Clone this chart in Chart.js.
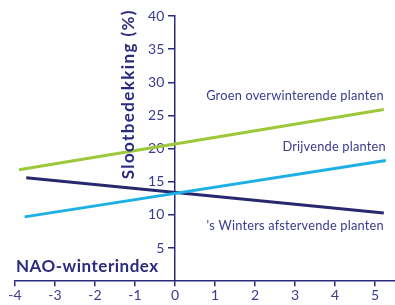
<!DOCTYPE html>
<html>
<head>
<meta charset="utf-8">
<script src="https://cdn.jsdelivr.net/npm/chart.js@4"></script>
<style>
  html, body { margin: 0; padding: 0; background: #fff; }
  #wrap { width: 395px; height: 305px; }
</style>
</head>
<body>
<div id="wrap"><canvas id="myChart"></canvas></div>
<script>
// NAO-winterindex (x) tegen slootbedekking in % (y)
const groenX = [-3.9, 5.22];
const groenY = [16.8, 25.9];
const drijvendX = [-3.76, 5.27];
const drijvendY = [9.7, 18.2];
const afstervendX = [-3.72, 5.22];
const afstervendY = [15.6, 10.3];

const xTicks = [-4, -3, -2, -1, 0, 1, 2, 3, 4, 5];
const yTicks = [5, 10, 15, 20, 25, 30, 35, 40];

const seriesNames = ['Groen overwinterende planten', 'Drijvende planten', "'s Winters afstervende planten"];
const xTitle = 'NAO-winterindex';
const yTitle = 'Slootbedekking (%)';

const navy = '#2b2b7d';
const textCol = '#3a3a8e';
const font = 'Lato, "Noto Sans", sans-serif';

function pts(xs, ys) {
    return xs.map((x, i) => ({ x: x, y: ys[i] }));
}

// labels near the lines + axis titles
const labelsPlugin = {
    id: 'labels',
    afterDraw(chart) {
        const ctx = chart.ctx;
        const x = chart.scales.x, y = chart.scales.y;
        ctx.save();
        ctx.fillStyle = textCol;
        ctx.font = '12.8px ' + font;
        ctx.letterSpacing = '0.2px';
        ctx.textAlign = 'right';
        ctx.textBaseline = 'middle';
        ctx.fillText(seriesNames[0], x.getPixelForValue(5.22), y.getPixelForValue(28));
        ctx.fillText(seriesNames[1], x.getPixelForValue(5.27), y.getPixelForValue(20.3));
        ctx.fillText(seriesNames[2], x.getPixelForValue(5.22), y.getPixelForValue(8.4));

        ctx.fillStyle = navy;
        ctx.font = 'bold 17px ' + font;
        ctx.letterSpacing = '0.5px';
        ctx.textAlign = 'left';
        ctx.fillText(xTitle, 16, y.getPixelForValue(2.2));

        ctx.letterSpacing = '1.4px';
        ctx.translate(134, y.getPixelForValue(28.2));
        ctx.rotate(-Math.PI / 2);
        ctx.textAlign = 'center';
        ctx.textBaseline = 'alphabetic';
        ctx.fillText(yTitle, 0, 0);
        ctx.restore();
    }
};

const ctx = document.getElementById('myChart').getContext('2d');
const myChart = new Chart(ctx, {
    type: 'line',
    data: {
        datasets: [{
            label: seriesNames[0],
            data: pts(groenX, groenY),
            borderColor: '#9bc93a',
            borderWidth: 3,
            pointRadius: 0
        }, {
            label: seriesNames[1],
            data: pts(drijvendX, drijvendY),
            borderColor: '#1cb0e6',
            borderWidth: 3,
            pointRadius: 0
        }, {
            label: seriesNames[2],
            data: pts(afstervendX, afstervendY),
            borderColor: '#28286f',
            borderWidth: 3,
            pointRadius: 0
        }]
    },
    options: {
        responsive: true,
        maintainAspectRatio: false,
        animation: false,
        layout: { padding: { left: 15, right: 0, top: 16, bottom: 0 } },
        plugins: { legend: { display: false }, tooltip: { enabled: false } },
        scales: {
            x: {
                type: 'linear',
                min: -4,
                max: 5.5,
                afterBuildTicks: (s) => { s.ticks = xTicks.map(v => ({ value: v })); },
                grid: { drawOnChartArea: false, tickLength: 5, color: navy, lineWidth: 1.5 },
                border: { color: navy, width: 1.5 },
                ticks: { color: textCol, font: { family: font, size: 14 }, padding: 1, maxRotation: 0 }
            },
            y: {
                type: 'linear',
                min: 0,
                max: 40,
                position: { x: 0 },
                afterBuildTicks: (s) => { s.ticks = yTicks.map(v => ({ value: v })); },
                grid: { drawOnChartArea: false, tickLength: 6, color: navy, lineWidth: 1.5 },
                border: { color: navy, width: 1.5 },
                // axis sits in the middle, so push the labels left of the tick marks
                ticks: { color: textCol, font: { family: font, size: 14 }, callback: (v) => v + '   ' }
            }
        }
    },
    plugins: [labelsPlugin]
});
</script>
</body>
</html>
